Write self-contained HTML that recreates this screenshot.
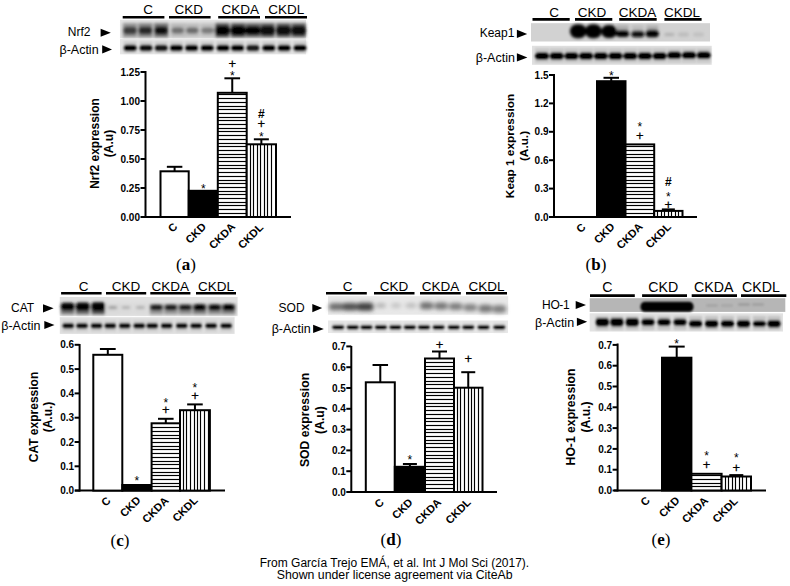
<!DOCTYPE html><html><head><meta charset="utf-8"><style>html,body{margin:0;padding:0;background:#fff;}svg{display:block;}</style></head><body>
<svg width="790" height="586" viewBox="0 0 790 586">
<defs><filter id="b" x="-50%" y="-80%" width="200%" height="260%"><feGaussianBlur stdDeviation="1.6"/></filter><filter id="b2" x="-50%" y="-80%" width="200%" height="260%"><feGaussianBlur stdDeviation="1.0"/></filter><filter id="b3" x="-50%" y="-80%" width="200%" height="260%"><feGaussianBlur stdDeviation="2.2"/></filter></defs>
<rect width="790" height="586" fill="#fff"/>
<filter id="f1" x="-20%" y="-50%" width="140%" height="200%"><feGaussianBlur stdDeviation="1.5"/></filter>
<rect x="120" y="19.8" width="186" height="18.499999999999996" fill="#e4e4e4"/>
<g filter="url(#f1)">
<rect x="122.75" y="23" width="14.5" height="14.5" fill="#8a8a8a" opacity="0.85"/>
<rect x="138.15" y="23" width="14.5" height="14.5" fill="#7a7a7a" opacity="0.85"/>
<rect x="154.05" y="23" width="14.5" height="14.5" fill="#6a6a6a" opacity="0.85"/>
<rect x="170.45" y="23" width="14.5" height="14.5" fill="#b4b4b4" opacity="0.85"/>
<rect x="185.05" y="23" width="14.5" height="14.5" fill="#b8b8b8" opacity="0.85"/>
<rect x="200.25" y="23" width="14.5" height="14.5" fill="#bcbcbc" opacity="0.85"/>
<rect x="215.05" y="23" width="14.5" height="14.5" fill="#4a4a4a" opacity="0.85"/>
<rect x="230.95" y="23" width="14.5" height="14.5" fill="#4a4a4a" opacity="0.85"/>
<rect x="245.65" y="23" width="14.5" height="14.5" fill="#5a5a5a" opacity="0.85"/>
<rect x="260.25" y="23" width="14.5" height="14.5" fill="#555" opacity="0.85"/>
<rect x="276.25" y="23" width="14.5" height="14.5" fill="#555" opacity="0.85"/>
<rect x="291.45" y="23" width="14.5" height="14.5" fill="#555" opacity="0.85"/>
<rect x="123.25" y="26.85" width="13.5" height="7.5" rx="3.5" fill="#3a3a3a"/>
<rect x="138.65" y="26.85" width="13.5" height="7.5" rx="3.5" fill="#262626"/>
<rect x="154.55" y="26.6" width="13.5" height="8" rx="3.5" fill="#101010"/>
<rect x="171.45" y="27.6" width="12.5" height="6" rx="3.5" fill="#6e6e6e"/>
<rect x="186.05" y="27.6" width="12.5" height="6" rx="3.5" fill="#6a6a6a"/>
<rect x="201.25" y="27.6" width="12.5" height="6" rx="3.5" fill="#7a7a7a"/>
<rect x="214.8" y="25.85" width="15" height="9.5" rx="3.5" fill="#000"/>
<rect x="230.7" y="25.85" width="15" height="9.5" rx="3.5" fill="#000"/>
<rect x="245.65" y="26.1" width="14.5" height="9" rx="3.5" fill="#050505"/>
<rect x="260.25" y="25.85" width="14.5" height="9.5" rx="3.5" fill="#0a0a0a"/>
<rect x="276.25" y="25.85" width="14.5" height="9.5" rx="3.5" fill="#080808"/>
<rect x="291.45" y="25.85" width="14.5" height="9.5" rx="3.5" fill="#080808"/>
</g>
<filter id="f2" x="-20%" y="-50%" width="140%" height="200%"><feGaussianBlur stdDeviation="1.1"/></filter>
<rect x="120" y="39" width="186" height="15.299999999999997" fill="#e6e6e6"/>
<g filter="url(#f2)">
<rect x="123.44999999999999" y="41" width="13.5" height="12" fill="#c8c8c8" opacity="0.8"/>
<rect x="139.25" y="41" width="13.5" height="12" fill="#c8c8c8" opacity="0.8"/>
<rect x="154.45" y="41" width="13.5" height="12" fill="#c8c8c8" opacity="0.8"/>
<rect x="169.65" y="41" width="13.5" height="12" fill="#c8c8c8" opacity="0.8"/>
<rect x="184.85" y="41" width="13.5" height="12" fill="#c8c8c8" opacity="0.8"/>
<rect x="200.45" y="41" width="13.5" height="12" fill="#c8c8c8" opacity="0.8"/>
<rect x="216.25" y="41" width="13.5" height="12" fill="#c8c8c8" opacity="0.8"/>
<rect x="230.85" y="41" width="13.5" height="12" fill="#c8c8c8" opacity="0.8"/>
<rect x="246.15" y="41" width="13.5" height="12" fill="#c8c8c8" opacity="0.8"/>
<rect x="262.05" y="41" width="13.5" height="12" fill="#c8c8c8" opacity="0.8"/>
<rect x="277.35" y="41" width="13.5" height="12" fill="#c8c8c8" opacity="0.8"/>
<rect x="293.25" y="41" width="13.5" height="12" fill="#c8c8c8" opacity="0.8"/>
<rect x="123.69999999999999" y="44.65" width="13" height="6.5" rx="3" fill="#000"/>
<rect x="139.5" y="44.65" width="13" height="6.5" rx="3" fill="#0a0a0a"/>
<rect x="154.7" y="44.65" width="13" height="6.5" rx="3" fill="#141414"/>
<rect x="169.9" y="44.65" width="13" height="6.5" rx="3" fill="#000"/>
<rect x="185.1" y="44.65" width="13" height="6.5" rx="3" fill="#050505"/>
<rect x="200.7" y="44.65" width="13" height="6.5" rx="3" fill="#000"/>
<rect x="216.5" y="44.65" width="13" height="6.5" rx="3" fill="#000"/>
<rect x="231.1" y="44.65" width="13" height="6.5" rx="3" fill="#050505"/>
<rect x="246.4" y="44.65" width="13" height="6.5" rx="3" fill="#1a1a1a"/>
<rect x="262.3" y="44.65" width="13" height="6.5" rx="3" fill="#000"/>
<rect x="277.6" y="44.65" width="13" height="6.5" rx="3" fill="#050505"/>
<rect x="293.5" y="44.65" width="13" height="6.5" rx="3" fill="#000"/>
</g>
<text x="148" y="14.4" font-size="13.5" font-weight="normal" text-anchor="middle" font-family='"Liberation Sans", sans-serif' >C</text>
<line x1="122.7" y1="17.3" x2="164.4" y2="17.3" stroke="#000" stroke-width="2.6"/>
<text x="188.8" y="14.4" font-size="13.5" font-weight="normal" text-anchor="middle" font-family='"Liberation Sans", sans-serif' >CKD</text>
<line x1="169" y1="17.3" x2="210.6" y2="17.3" stroke="#000" stroke-width="2.6"/>
<text x="240.3" y="14.4" font-size="13.5" font-weight="normal" text-anchor="middle" font-family='"Liberation Sans", sans-serif' >CKDA</text>
<line x1="218.2" y1="17.3" x2="260" y2="17.3" stroke="#000" stroke-width="2.6"/>
<text x="286.2" y="14.4" font-size="13.5" font-weight="normal" text-anchor="middle" font-family='"Liberation Sans", sans-serif' >CKDL</text>
<line x1="265" y1="17.3" x2="307" y2="17.3" stroke="#000" stroke-width="2.6"/>
<text x="90.5" y="35.8" font-size="12" font-weight="normal" text-anchor="end" font-family='"Liberation Sans", sans-serif' >Nrf2</text>
<polygon points="100.6,28.65 110.8,32.75 100.6,36.85" fill="#000"/>
<text x="98.6" y="54" font-size="12.5" font-weight="normal" text-anchor="end" font-family='"Liberation Sans", sans-serif' >&#946;-Actin</text>
<polygon points="102.2,45.35 112.0,49.45 102.2,53.550000000000004" fill="#000"/>
<line x1="140.5" y1="217" x2="145.5" y2="217" stroke="#000" stroke-width="2"/>
<text x="140.0" y="220.6" font-size="10" font-weight="bold" text-anchor="end" font-family='"Liberation Sans", sans-serif' >0.00</text>
<line x1="140.5" y1="188.0" x2="145.5" y2="188.0" stroke="#000" stroke-width="2"/>
<text x="140.0" y="191.6" font-size="10" font-weight="bold" text-anchor="end" font-family='"Liberation Sans", sans-serif' >0.25</text>
<line x1="140.5" y1="159.0" x2="145.5" y2="159.0" stroke="#000" stroke-width="2"/>
<text x="140.0" y="162.6" font-size="10" font-weight="bold" text-anchor="end" font-family='"Liberation Sans", sans-serif' >0.50</text>
<line x1="140.5" y1="130.0" x2="145.5" y2="130.0" stroke="#000" stroke-width="2"/>
<text x="140.0" y="133.6" font-size="10" font-weight="bold" text-anchor="end" font-family='"Liberation Sans", sans-serif' >0.75</text>
<line x1="140.5" y1="101.0" x2="145.5" y2="101.0" stroke="#000" stroke-width="2"/>
<text x="140.0" y="104.6" font-size="10" font-weight="bold" text-anchor="end" font-family='"Liberation Sans", sans-serif' >1.00</text>
<line x1="140.5" y1="72.0" x2="145.5" y2="72.0" stroke="#000" stroke-width="2"/>
<text x="140.0" y="75.6" font-size="10" font-weight="bold" text-anchor="end" font-family='"Liberation Sans", sans-serif' >1.25</text>
<line x1="145.5" y1="218" x2="145.5" y2="71" stroke="#000" stroke-width="2"/>
<line x1="141" y1="217" x2="291" y2="217" stroke="#000" stroke-width="2"/>
<rect x="160.5" y="171.3" width="28.19999999999999" height="45.69999999999999" fill="#fff" stroke="#000" stroke-width="2"/>
<line x1="174.6" y1="171.3" x2="174.6" y2="166.8" stroke="#000" stroke-width="2"/>
<line x1="166.85" y1="166.8" x2="182.35" y2="166.8" stroke="#000" stroke-width="2"/>
<rect x="188.7" y="190.8" width="29.100000000000023" height="26.19999999999999" fill="#000" stroke="#000" stroke-width="2"/>
<text x="203.25" y="192.6" font-size="12" font-weight="normal" text-anchor="middle" font-family='"Liberation Sans", sans-serif' >*</text>
<rect x="217.8" y="92.8" width="28.899999999999977" height="124.2" fill="#fff" stroke="#000" stroke-width="2"/>
<line x1="217.8" y1="213.5" x2="246.7" y2="213.5" stroke="#000" stroke-width="1.15"/>
<line x1="217.8" y1="209.5" x2="246.7" y2="209.5" stroke="#000" stroke-width="1.15"/>
<line x1="217.8" y1="205.5" x2="246.7" y2="205.5" stroke="#000" stroke-width="1.15"/>
<line x1="217.8" y1="202.5" x2="246.7" y2="202.5" stroke="#000" stroke-width="1.15"/>
<line x1="217.8" y1="198.5" x2="246.7" y2="198.5" stroke="#000" stroke-width="1.15"/>
<line x1="217.8" y1="194.5" x2="246.7" y2="194.5" stroke="#000" stroke-width="1.15"/>
<line x1="217.8" y1="191.5" x2="246.7" y2="191.5" stroke="#000" stroke-width="1.15"/>
<line x1="217.8" y1="187.5" x2="246.7" y2="187.5" stroke="#000" stroke-width="1.15"/>
<line x1="217.8" y1="183.5" x2="246.7" y2="183.5" stroke="#000" stroke-width="1.15"/>
<line x1="217.8" y1="180.5" x2="246.7" y2="180.5" stroke="#000" stroke-width="1.15"/>
<line x1="217.8" y1="176.5" x2="246.7" y2="176.5" stroke="#000" stroke-width="1.15"/>
<line x1="217.8" y1="172.5" x2="246.7" y2="172.5" stroke="#000" stroke-width="1.15"/>
<line x1="217.8" y1="168.5" x2="246.7" y2="168.5" stroke="#000" stroke-width="1.15"/>
<line x1="217.8" y1="165.5" x2="246.7" y2="165.5" stroke="#000" stroke-width="1.15"/>
<line x1="217.8" y1="161.5" x2="246.7" y2="161.5" stroke="#000" stroke-width="1.15"/>
<line x1="217.8" y1="157.5" x2="246.7" y2="157.5" stroke="#000" stroke-width="1.15"/>
<line x1="217.8" y1="154.5" x2="246.7" y2="154.5" stroke="#000" stroke-width="1.15"/>
<line x1="217.8" y1="150.5" x2="246.7" y2="150.5" stroke="#000" stroke-width="1.15"/>
<line x1="217.8" y1="146.5" x2="246.7" y2="146.5" stroke="#000" stroke-width="1.15"/>
<line x1="217.8" y1="143.5" x2="246.7" y2="143.5" stroke="#000" stroke-width="1.15"/>
<line x1="217.8" y1="139.5" x2="246.7" y2="139.5" stroke="#000" stroke-width="1.15"/>
<line x1="217.8" y1="135.5" x2="246.7" y2="135.5" stroke="#000" stroke-width="1.15"/>
<line x1="217.8" y1="131.5" x2="246.7" y2="131.5" stroke="#000" stroke-width="1.15"/>
<line x1="217.8" y1="128.5" x2="246.7" y2="128.5" stroke="#000" stroke-width="1.15"/>
<line x1="217.8" y1="124.5" x2="246.7" y2="124.5" stroke="#000" stroke-width="1.15"/>
<line x1="217.8" y1="120.5" x2="246.7" y2="120.5" stroke="#000" stroke-width="1.15"/>
<line x1="217.8" y1="117.5" x2="246.7" y2="117.5" stroke="#000" stroke-width="1.15"/>
<line x1="217.8" y1="113.5" x2="246.7" y2="113.5" stroke="#000" stroke-width="1.15"/>
<line x1="217.8" y1="109.5" x2="246.7" y2="109.5" stroke="#000" stroke-width="1.15"/>
<line x1="217.8" y1="106.5" x2="246.7" y2="106.5" stroke="#000" stroke-width="1.15"/>
<line x1="217.8" y1="102.5" x2="246.7" y2="102.5" stroke="#000" stroke-width="1.15"/>
<line x1="217.8" y1="98.5" x2="246.7" y2="98.5" stroke="#000" stroke-width="1.15"/>
<line x1="217.8" y1="94.5" x2="246.7" y2="94.5" stroke="#000" stroke-width="1.15"/>
<line x1="232.25" y1="92.8" x2="232.25" y2="78.3" stroke="#000" stroke-width="2"/>
<line x1="224.4" y1="78.3" x2="240.1" y2="78.3" stroke="#000" stroke-width="2"/>
<text x="232.25" y="79.6" font-size="12" font-weight="normal" text-anchor="middle" font-family='"Liberation Sans", sans-serif' >*</text>
<text x="232.25" y="67.6" font-size="13" font-weight="normal" text-anchor="middle" font-family='"Liberation Sans", sans-serif' stroke="#000" stroke-width="0.25">+</text>
<rect x="246.7" y="144.3" width="29.30000000000001" height="72.69999999999999" fill="#fff" stroke="#000" stroke-width="2"/>
<line x1="250.5" y1="144.3" x2="250.5" y2="217" stroke="#000" stroke-width="1.15"/>
<line x1="253.5" y1="144.3" x2="253.5" y2="217" stroke="#000" stroke-width="1.15"/>
<line x1="257.5" y1="144.3" x2="257.5" y2="217" stroke="#000" stroke-width="1.15"/>
<line x1="260.5" y1="144.3" x2="260.5" y2="217" stroke="#000" stroke-width="1.15"/>
<line x1="264.5" y1="144.3" x2="264.5" y2="217" stroke="#000" stroke-width="1.15"/>
<line x1="267.5" y1="144.3" x2="267.5" y2="217" stroke="#000" stroke-width="1.15"/>
<line x1="271.5" y1="144.3" x2="271.5" y2="217" stroke="#000" stroke-width="1.15"/>
<line x1="261.35" y1="144.3" x2="261.35" y2="139.3" stroke="#000" stroke-width="2"/>
<line x1="253.85000000000002" y1="139.3" x2="268.85" y2="139.3" stroke="#000" stroke-width="2"/>
<text x="261.35" y="140.6" font-size="12" font-weight="normal" text-anchor="middle" font-family='"Liberation Sans", sans-serif' >*</text>
<text x="261.35" y="127.6" font-size="13" font-weight="normal" text-anchor="middle" font-family='"Liberation Sans", sans-serif' stroke="#000" stroke-width="0.25">+</text>
<text x="261.35" y="117.9" font-size="12" font-weight="bold" text-anchor="middle" font-family='"Liberation Sans", sans-serif' >#</text>
<text x="178.0" y="227.5" font-size="11" font-weight="bold" text-anchor="end" font-family='"Liberation Sans", sans-serif' transform="rotate(-45 178.0 227.5)">C</text>
<text x="206.8" y="227.4" font-size="11" font-weight="bold" text-anchor="end" font-family='"Liberation Sans", sans-serif' transform="rotate(-45 206.8 227.4)">CKD</text>
<text x="235.9" y="227.4" font-size="11" font-weight="bold" text-anchor="end" font-family='"Liberation Sans", sans-serif' transform="rotate(-45 235.9 227.4)">CKDA</text>
<text x="264.0" y="228.0" font-size="11" font-weight="bold" text-anchor="end" font-family='"Liberation Sans", sans-serif' transform="rotate(-45 264.0 228.0)">CKDL</text>
<text font-size="12" font-weight="bold" text-anchor="middle" font-family='"Liberation Sans", sans-serif' transform="translate(99 143.5) rotate(-90)">Nrf2 expression</text>
<text font-size="12" font-weight="bold" text-anchor="middle" font-family='"Liberation Sans", sans-serif' transform="translate(113 143.5) rotate(-90)">(A.u)</text>
<text x="186" y="270" font-size="17" text-anchor="middle" font-family='"Liberation Serif", serif'>(<tspan font-weight="bold">a</tspan>)</text>
<filter id="f3" x="-20%" y="-50%" width="140%" height="200%"><feGaussianBlur stdDeviation="1.4"/></filter>
<rect x="531" y="23.2" width="179" height="18.3" fill="#d2d2d2"/>
<g filter="url(#f3)">
<rect x="616.6" y="25" width="12" height="9" fill="#a0a0a0" opacity="0.7"/>
<rect x="631.8" y="25" width="12" height="9" fill="#b0b0b0" opacity="0.6"/>
<rect x="646.3" y="25" width="12" height="9" fill="#a4a4a4" opacity="0.7"/>
<rect x="569.95" y="24.2" width="16.5" height="14" rx="7" fill="#000"/>
<rect x="585.15" y="24.2" width="16.5" height="14" rx="7" fill="#000"/>
<rect x="601.2" y="25.0" width="16" height="13" rx="6.5" fill="#000"/>
<rect x="616.1" y="30.0" width="13" height="7" rx="3.5" fill="#000"/>
<rect x="631.3" y="30.75" width="13" height="6.5" rx="3.2" fill="#080808"/>
<rect x="645.8" y="29.75" width="13" height="7.5" rx="3.5" fill="#000"/>
<rect x="664.4" y="33.0" width="10" height="3" rx="1.5" fill="#b0b0b0"/>
<rect x="677.9" y="32.5" width="11" height="4" rx="2" fill="#bcbcbc"/>
<rect x="693.0" y="32.5" width="11" height="4" rx="2" fill="#c0c0c0"/>
</g>
<filter id="f4" x="-20%" y="-50%" width="140%" height="200%"><feGaussianBlur stdDeviation="1.2"/></filter>
<rect x="532" y="45.8" width="179.70000000000005" height="19.0" fill="#e0e0e0"/>
<g filter="url(#f4)">
<rect x="535.0" y="48" width="14" height="15" fill="#c0c0c0" opacity="0.7"/>
<rect x="549.7" y="48" width="14" height="15" fill="#c0c0c0" opacity="0.7"/>
<rect x="564.4" y="48" width="14" height="15" fill="#c0c0c0" opacity="0.7"/>
<rect x="579.1" y="48" width="14" height="15" fill="#c0c0c0" opacity="0.7"/>
<rect x="593.8" y="48" width="14" height="15" fill="#c0c0c0" opacity="0.7"/>
<rect x="608.5" y="48" width="14" height="15" fill="#c0c0c0" opacity="0.7"/>
<rect x="623.2" y="48" width="14" height="15" fill="#c0c0c0" opacity="0.7"/>
<rect x="637.9" y="48" width="14" height="15" fill="#c0c0c0" opacity="0.7"/>
<rect x="652.6" y="48" width="14" height="15" fill="#c0c0c0" opacity="0.7"/>
<rect x="667.3" y="48" width="14" height="15" fill="#c0c0c0" opacity="0.7"/>
<rect x="682.0" y="48" width="14" height="15" fill="#c0c0c0" opacity="0.7"/>
<rect x="696.7" y="48" width="14" height="15" fill="#c0c0c0" opacity="0.7"/>
<rect x="535.0" y="52.2" width="14" height="7.6" rx="3.5" fill="#000"/>
<rect x="549.7" y="52.2" width="14" height="7.6" rx="3.5" fill="#000"/>
<rect x="564.4" y="52.2" width="14" height="7.6" rx="3.5" fill="#000"/>
<rect x="579.1" y="52.2" width="14" height="7.6" rx="3.5" fill="#000"/>
<rect x="593.8" y="52.2" width="14" height="7.6" rx="3.5" fill="#000"/>
<rect x="608.5" y="52.2" width="14" height="7.6" rx="3.5" fill="#000"/>
<rect x="623.2" y="52.2" width="14" height="7.6" rx="3.5" fill="#000"/>
<rect x="637.9" y="52.2" width="14" height="7.6" rx="3.5" fill="#000"/>
<rect x="652.6" y="52.2" width="14" height="7.6" rx="3.5" fill="#000"/>
<rect x="667.3" y="51.400000000000006" width="14" height="7.6" rx="3.5" fill="#000"/>
<rect x="682.0" y="51.400000000000006" width="14" height="7.6" rx="3.5" fill="#000"/>
<rect x="696.7" y="51.400000000000006" width="14" height="7.6" rx="3.5" fill="#000"/>
</g>
<text x="554" y="17" font-size="13.5" font-weight="normal" text-anchor="middle" font-family='"Liberation Sans", sans-serif' >C</text>
<line x1="532.5" y1="19.4" x2="569.7" y2="19.4" stroke="#000" stroke-width="2.6"/>
<text x="592" y="17" font-size="13.5" font-weight="normal" text-anchor="middle" font-family='"Liberation Sans", sans-serif' >CKD</text>
<line x1="575" y1="19.4" x2="612.3" y2="19.4" stroke="#000" stroke-width="2.6"/>
<text x="637.6" y="17" font-size="13.5" font-weight="normal" text-anchor="middle" font-family='"Liberation Sans", sans-serif' >CKDA</text>
<line x1="619.2" y1="19.4" x2="656.7" y2="19.4" stroke="#000" stroke-width="2.6"/>
<text x="682" y="17" font-size="13.5" font-weight="normal" text-anchor="middle" font-family='"Liberation Sans", sans-serif' >CKDL</text>
<line x1="664.4" y1="19.4" x2="701.6" y2="19.4" stroke="#000" stroke-width="2.6"/>
<text x="514.4" y="37.1" font-size="12" font-weight="normal" text-anchor="end" font-family='"Liberation Sans", sans-serif' >Keap1</text>
<polygon points="516.9,29.799999999999997 527.1999999999999,33.9 516.9,38.0" fill="#000"/>
<text x="514.9" y="61.8" font-size="12.5" font-weight="normal" text-anchor="end" font-family='"Liberation Sans", sans-serif' >&#946;-Actin</text>
<polygon points="516.9,53.3 527.4,57.4 516.9,61.5" fill="#000"/>
<line x1="549" y1="217.0" x2="554" y2="217.0" stroke="#000" stroke-width="2"/>
<text x="548.5" y="220.6" font-size="10" font-weight="bold" text-anchor="end" font-family='"Liberation Sans", sans-serif' >0.0</text>
<line x1="549" y1="188.599" x2="554" y2="188.599" stroke="#000" stroke-width="2"/>
<text x="548.5" y="192.19899999999998" font-size="10" font-weight="bold" text-anchor="end" font-family='"Liberation Sans", sans-serif' >0.3</text>
<line x1="549" y1="160.198" x2="554" y2="160.198" stroke="#000" stroke-width="2"/>
<text x="548.5" y="163.798" font-size="10" font-weight="bold" text-anchor="end" font-family='"Liberation Sans", sans-serif' >0.6</text>
<line x1="549" y1="131.797" x2="554" y2="131.797" stroke="#000" stroke-width="2"/>
<text x="548.5" y="135.397" font-size="10" font-weight="bold" text-anchor="end" font-family='"Liberation Sans", sans-serif' >0.9</text>
<line x1="549" y1="103.396" x2="554" y2="103.396" stroke="#000" stroke-width="2"/>
<text x="548.5" y="106.996" font-size="10" font-weight="bold" text-anchor="end" font-family='"Liberation Sans", sans-serif' >1.2</text>
<line x1="549" y1="74.995" x2="554" y2="74.995" stroke="#000" stroke-width="2"/>
<text x="548.5" y="78.595" font-size="10" font-weight="bold" text-anchor="end" font-family='"Liberation Sans", sans-serif' >1.5</text>
<line x1="554" y1="218" x2="554" y2="74" stroke="#000" stroke-width="2"/>
<line x1="551" y1="217" x2="697" y2="217" stroke="#000" stroke-width="2"/>
<rect x="597" y="81.2" width="28.5" height="135.8" fill="#000" stroke="#000" stroke-width="2"/>
<line x1="611.25" y1="81.2" x2="611.25" y2="77.80000000000001" stroke="#000" stroke-width="2"/>
<line x1="603.5" y1="77.80000000000001" x2="619.0" y2="77.80000000000001" stroke="#000" stroke-width="2"/>
<text x="611.25" y="79.6" font-size="12" font-weight="normal" text-anchor="middle" font-family='"Liberation Sans", sans-serif' >*</text>
<rect x="625.5" y="144.4" width="28.700000000000045" height="72.6" fill="#fff" stroke="#000" stroke-width="2"/>
<line x1="625.5" y1="213.5" x2="654.2" y2="213.5" stroke="#000" stroke-width="1.15"/>
<line x1="625.5" y1="209.5" x2="654.2" y2="209.5" stroke="#000" stroke-width="1.15"/>
<line x1="625.5" y1="205.5" x2="654.2" y2="205.5" stroke="#000" stroke-width="1.15"/>
<line x1="625.5" y1="202.5" x2="654.2" y2="202.5" stroke="#000" stroke-width="1.15"/>
<line x1="625.5" y1="198.5" x2="654.2" y2="198.5" stroke="#000" stroke-width="1.15"/>
<line x1="625.5" y1="194.5" x2="654.2" y2="194.5" stroke="#000" stroke-width="1.15"/>
<line x1="625.5" y1="191.5" x2="654.2" y2="191.5" stroke="#000" stroke-width="1.15"/>
<line x1="625.5" y1="187.5" x2="654.2" y2="187.5" stroke="#000" stroke-width="1.15"/>
<line x1="625.5" y1="183.5" x2="654.2" y2="183.5" stroke="#000" stroke-width="1.15"/>
<line x1="625.5" y1="180.5" x2="654.2" y2="180.5" stroke="#000" stroke-width="1.15"/>
<line x1="625.5" y1="176.5" x2="654.2" y2="176.5" stroke="#000" stroke-width="1.15"/>
<line x1="625.5" y1="172.5" x2="654.2" y2="172.5" stroke="#000" stroke-width="1.15"/>
<line x1="625.5" y1="168.5" x2="654.2" y2="168.5" stroke="#000" stroke-width="1.15"/>
<line x1="625.5" y1="165.5" x2="654.2" y2="165.5" stroke="#000" stroke-width="1.15"/>
<line x1="625.5" y1="161.5" x2="654.2" y2="161.5" stroke="#000" stroke-width="1.15"/>
<line x1="625.5" y1="157.5" x2="654.2" y2="157.5" stroke="#000" stroke-width="1.15"/>
<line x1="625.5" y1="154.5" x2="654.2" y2="154.5" stroke="#000" stroke-width="1.15"/>
<line x1="625.5" y1="150.5" x2="654.2" y2="150.5" stroke="#000" stroke-width="1.15"/>
<line x1="625.5" y1="146.5" x2="654.2" y2="146.5" stroke="#000" stroke-width="1.15"/>
<text x="639.85" y="130.6" font-size="12" font-weight="normal" text-anchor="middle" font-family='"Liberation Sans", sans-serif' >*</text>
<text x="639.85" y="140.0" font-size="13" font-weight="normal" text-anchor="middle" font-family='"Liberation Sans", sans-serif' stroke="#000" stroke-width="0.25">+</text>
<rect x="654.2" y="210.9" width="28.299999999999955" height="6.099999999999994" fill="#fff" stroke="#000" stroke-width="2"/>
<line x1="657.5" y1="210.9" x2="657.5" y2="217" stroke="#000" stroke-width="1.15"/>
<line x1="661.5" y1="210.9" x2="661.5" y2="217" stroke="#000" stroke-width="1.15"/>
<line x1="664.5" y1="210.9" x2="664.5" y2="217" stroke="#000" stroke-width="1.15"/>
<line x1="668.5" y1="210.9" x2="668.5" y2="217" stroke="#000" stroke-width="1.15"/>
<line x1="671.5" y1="210.9" x2="671.5" y2="217" stroke="#000" stroke-width="1.15"/>
<line x1="675.5" y1="210.9" x2="675.5" y2="217" stroke="#000" stroke-width="1.15"/>
<line x1="678.5" y1="210.9" x2="678.5" y2="217" stroke="#000" stroke-width="1.15"/>
<line x1="668.35" y1="210.9" x2="668.35" y2="209.4" stroke="#000" stroke-width="2"/>
<line x1="661.85" y1="209.4" x2="674.85" y2="209.4" stroke="#000" stroke-width="2"/>
<text x="668.35" y="186.4" font-size="12" font-weight="bold" text-anchor="middle" font-family='"Liberation Sans", sans-serif' >#</text>
<text x="668.35" y="200.6" font-size="12" font-weight="normal" text-anchor="middle" font-family='"Liberation Sans", sans-serif' >*</text>
<text x="668.35" y="208.6" font-size="13" font-weight="normal" text-anchor="middle" font-family='"Liberation Sans", sans-serif' stroke="#000" stroke-width="0.25">+</text>
<text x="586.3" y="227.8" font-size="11" font-weight="bold" text-anchor="end" font-family='"Liberation Sans", sans-serif' transform="rotate(-45 586.3 227.8)">C</text>
<text x="615.3" y="227.4" font-size="11" font-weight="bold" text-anchor="end" font-family='"Liberation Sans", sans-serif' transform="rotate(-45 615.3 227.4)">CKD</text>
<text x="643.5" y="227.4" font-size="11" font-weight="bold" text-anchor="end" font-family='"Liberation Sans", sans-serif' transform="rotate(-45 643.5 227.4)">CKDA</text>
<text x="671.7" y="227.5" font-size="11" font-weight="bold" text-anchor="end" font-family='"Liberation Sans", sans-serif' transform="rotate(-45 671.7 227.5)">CKDL</text>
<text font-size="11.8" font-weight="bold" text-anchor="middle" font-family='"Liberation Sans", sans-serif' transform="translate(514 146) rotate(-90)">Keap 1 expression</text>
<text font-size="11.8" font-weight="bold" text-anchor="middle" font-family='"Liberation Sans", sans-serif' transform="translate(527.5 146) rotate(-90)">(A.u.)</text>
<text x="596" y="270" font-size="17" text-anchor="middle" font-family='"Liberation Serif", serif'>(<tspan font-weight="bold">b</tspan>)</text>
<filter id="f5" x="-20%" y="-50%" width="140%" height="200%"><feGaussianBlur stdDeviation="1.4"/></filter>
<rect x="59.8" y="297" width="177.8" height="18.899999999999977" fill="#e0e0e0"/>
<g filter="url(#f5)">
<rect x="60.849999999999994" y="303" width="13.5" height="11.5" fill="#707070" opacity="0.9"/>
<rect x="75.95" y="303" width="13.5" height="11.5" fill="#606060" opacity="0.9"/>
<rect x="91.55" y="303" width="13.5" height="11.5" fill="#505050" opacity="0.9"/>
<rect x="105.95" y="303" width="13.5" height="11.5" fill="#d8d8d8" opacity="0.9"/>
<rect x="119.25" y="303" width="13.5" height="11.5" fill="#dadada" opacity="0.9"/>
<rect x="133.65" y="303" width="13.5" height="11.5" fill="#dadada" opacity="0.9"/>
<rect x="149.65" y="304" width="13.5" height="10.5" fill="#909090" opacity="0.9"/>
<rect x="164.15" y="304" width="13.5" height="10.5" fill="#909090" opacity="0.9"/>
<rect x="178.55" y="304" width="13.5" height="10.5" fill="#8a8a8a" opacity="0.9"/>
<rect x="192.95" y="304" width="13.5" height="10.5" fill="#7a7a7a" opacity="0.9"/>
<rect x="207.95" y="304" width="13.5" height="10.5" fill="#858585" opacity="0.9"/>
<rect x="221.85" y="304" width="13.5" height="10.5" fill="#7e7e7e" opacity="0.9"/>
<rect x="60.849999999999994" y="302.8" width="13.5" height="8" rx="3" fill="#000"/>
<rect x="75.95" y="302.55" width="13.5" height="8.5" rx="3" fill="#000"/>
<rect x="91.55" y="302.3" width="13.5" height="9" rx="3" fill="#000"/>
<rect x="108.2" y="306.0" width="9" height="3" rx="3" fill="#9a9a9a"/>
<rect x="121.5" y="306.25" width="9" height="2.5" rx="3" fill="#aaaaaa"/>
<rect x="135.9" y="306.25" width="9" height="2.5" rx="3" fill="#a4a4a4"/>
<rect x="150.15" y="304.75" width="12.5" height="5.5" rx="3" fill="#0a0a0a"/>
<rect x="164.65" y="304.75" width="12.5" height="5.5" rx="3" fill="#0a0a0a"/>
<rect x="179.05" y="304.75" width="12.5" height="5.5" rx="3" fill="#080808"/>
<rect x="193.45" y="304.25" width="12.5" height="6.5" rx="3" fill="#000"/>
<rect x="208.45" y="304.5" width="12.5" height="6" rx="3" fill="#050505"/>
<rect x="222.35" y="304.25" width="12.5" height="6.5" rx="3" fill="#000"/>
</g>
<filter id="f6" x="-20%" y="-50%" width="140%" height="200%"><feGaussianBlur stdDeviation="1.0"/></filter>
<rect x="59.8" y="317.2" width="174.8" height="16.69999999999999" fill="#e0e0e0"/>
<g filter="url(#f6)">
<rect x="62.2" y="320" width="12" height="12" fill="#cacaca" opacity="0.7"/>
<rect x="76.0" y="320" width="12" height="12" fill="#cacaca" opacity="0.7"/>
<rect x="90.5" y="320" width="12" height="12" fill="#cacaca" opacity="0.7"/>
<rect x="104.3" y="320" width="12" height="12" fill="#cacaca" opacity="0.7"/>
<rect x="118.7" y="320" width="12" height="12" fill="#cacaca" opacity="0.7"/>
<rect x="133.2" y="320" width="12" height="12" fill="#cacaca" opacity="0.7"/>
<rect x="146.2" y="320" width="12" height="12" fill="#cacaca" opacity="0.7"/>
<rect x="160.6" y="320" width="12" height="12" fill="#cacaca" opacity="0.7"/>
<rect x="175.7" y="320" width="12" height="12" fill="#cacaca" opacity="0.7"/>
<rect x="190.1" y="320" width="12" height="12" fill="#cacaca" opacity="0.7"/>
<rect x="205.1" y="320" width="12" height="12" fill="#cacaca" opacity="0.7"/>
<rect x="220.2" y="320" width="12" height="12" fill="#cacaca" opacity="0.7"/>
<rect x="62.45" y="323.1" width="11.5" height="5.4" rx="2.5" fill="#080808"/>
<rect x="76.25" y="323.1" width="11.5" height="5.4" rx="2.5" fill="#080808"/>
<rect x="90.75" y="323.1" width="11.5" height="5.4" rx="2.5" fill="#080808"/>
<rect x="104.55" y="323.1" width="11.5" height="5.4" rx="2.5" fill="#080808"/>
<rect x="118.95" y="323.1" width="11.5" height="5.4" rx="2.5" fill="#080808"/>
<rect x="133.45" y="323.1" width="11.5" height="5.4" rx="2.5" fill="#080808"/>
<rect x="146.45" y="323.1" width="11.5" height="5.4" rx="2.5" fill="#080808"/>
<rect x="160.85" y="323.1" width="11.5" height="5.4" rx="2.5" fill="#080808"/>
<rect x="175.95" y="323.1" width="11.5" height="5.4" rx="2.5" fill="#080808"/>
<rect x="190.35" y="323.1" width="11.5" height="5.4" rx="2.5" fill="#080808"/>
<rect x="205.35" y="323.1" width="11.5" height="5.4" rx="2.5" fill="#080808"/>
<rect x="220.45" y="323.1" width="11.5" height="5.4" rx="2.5" fill="#080808"/>
</g>
<text x="83.5" y="290.8" font-size="13.5" font-weight="normal" text-anchor="middle" font-family='"Liberation Sans", sans-serif' >C</text>
<line x1="61.1" y1="293.3" x2="101.6" y2="293.3" stroke="#000" stroke-width="2.6"/>
<text x="126" y="290.8" font-size="13.5" font-weight="normal" text-anchor="middle" font-family='"Liberation Sans", sans-serif' >CKD</text>
<line x1="106" y1="293.3" x2="146.2" y2="293.3" stroke="#000" stroke-width="2.6"/>
<text x="170.3" y="290.8" font-size="13.5" font-weight="normal" text-anchor="middle" font-family='"Liberation Sans", sans-serif' >CKDA</text>
<line x1="150.3" y1="293.3" x2="190.4" y2="293.3" stroke="#000" stroke-width="2.6"/>
<text x="216" y="290.8" font-size="13.5" font-weight="normal" text-anchor="middle" font-family='"Liberation Sans", sans-serif' >CKDL</text>
<line x1="196" y1="293.3" x2="236" y2="293.3" stroke="#000" stroke-width="2.6"/>
<text x="34.2" y="311.8" font-size="12" font-weight="normal" text-anchor="end" font-family='"Liberation Sans", sans-serif' >CAT</text>
<polygon points="43,304.2 53.6,308.3 43,312.40000000000003" fill="#000"/>
<text x="40.4" y="329.6" font-size="12.5" font-weight="normal" text-anchor="end" font-family='"Liberation Sans", sans-serif' >&#946;-Actin</text>
<polygon points="44.3,320.9 54.5,325 44.3,329.1" fill="#000"/>
<line x1="74.6" y1="490.6" x2="79.6" y2="490.6" stroke="#000" stroke-width="2"/>
<text x="74.1" y="494.20000000000005" font-size="10" font-weight="bold" text-anchor="end" font-family='"Liberation Sans", sans-serif' >0.0</text>
<line x1="74.6" y1="466.3" x2="79.6" y2="466.3" stroke="#000" stroke-width="2"/>
<text x="74.1" y="469.90000000000003" font-size="10" font-weight="bold" text-anchor="end" font-family='"Liberation Sans", sans-serif' >0.1</text>
<line x1="74.6" y1="442.0" x2="79.6" y2="442.0" stroke="#000" stroke-width="2"/>
<text x="74.1" y="445.6" font-size="10" font-weight="bold" text-anchor="end" font-family='"Liberation Sans", sans-serif' >0.2</text>
<line x1="74.6" y1="417.70000000000005" x2="79.6" y2="417.70000000000005" stroke="#000" stroke-width="2"/>
<text x="74.1" y="421.30000000000007" font-size="10" font-weight="bold" text-anchor="end" font-family='"Liberation Sans", sans-serif' >0.3</text>
<line x1="74.6" y1="393.40000000000003" x2="79.6" y2="393.40000000000003" stroke="#000" stroke-width="2"/>
<text x="74.1" y="397.00000000000006" font-size="10" font-weight="bold" text-anchor="end" font-family='"Liberation Sans", sans-serif' >0.4</text>
<line x1="74.6" y1="369.1" x2="79.6" y2="369.1" stroke="#000" stroke-width="2"/>
<text x="74.1" y="372.70000000000005" font-size="10" font-weight="bold" text-anchor="end" font-family='"Liberation Sans", sans-serif' >0.5</text>
<line x1="74.6" y1="344.80000000000007" x2="79.6" y2="344.80000000000007" stroke="#000" stroke-width="2"/>
<text x="74.1" y="348.4000000000001" font-size="10" font-weight="bold" text-anchor="end" font-family='"Liberation Sans", sans-serif' >0.6</text>
<line x1="79.6" y1="491.6" x2="79.6" y2="344" stroke="#000" stroke-width="2"/>
<line x1="75" y1="490.6" x2="225" y2="490.6" stroke="#000" stroke-width="2"/>
<rect x="93.3" y="354.8" width="29.0" height="135.8" fill="#fff" stroke="#000" stroke-width="2"/>
<line x1="107.8" y1="354.8" x2="107.8" y2="349.0" stroke="#000" stroke-width="2"/>
<line x1="99.89999999999999" y1="349.0" x2="115.7" y2="349.0" stroke="#000" stroke-width="2"/>
<rect x="122.3" y="485.0" width="29.299999999999997" height="5.600000000000023" fill="#000" stroke="#000" stroke-width="2"/>
<text x="136.95" y="485.0" font-size="12" font-weight="normal" text-anchor="middle" font-family='"Liberation Sans", sans-serif' >*</text>
<rect x="151.6" y="423.3" width="28.400000000000006" height="67.30000000000001" fill="#fff" stroke="#000" stroke-width="2"/>
<line x1="151.6" y1="486.5" x2="180" y2="486.5" stroke="#000" stroke-width="1.15"/>
<line x1="151.6" y1="483.5" x2="180" y2="483.5" stroke="#000" stroke-width="1.15"/>
<line x1="151.6" y1="479.5" x2="180" y2="479.5" stroke="#000" stroke-width="1.15"/>
<line x1="151.6" y1="475.5" x2="180" y2="475.5" stroke="#000" stroke-width="1.15"/>
<line x1="151.6" y1="472.5" x2="180" y2="472.5" stroke="#000" stroke-width="1.15"/>
<line x1="151.6" y1="468.5" x2="180" y2="468.5" stroke="#000" stroke-width="1.15"/>
<line x1="151.6" y1="464.5" x2="180" y2="464.5" stroke="#000" stroke-width="1.15"/>
<line x1="151.6" y1="461.5" x2="180" y2="461.5" stroke="#000" stroke-width="1.15"/>
<line x1="151.6" y1="457.5" x2="180" y2="457.5" stroke="#000" stroke-width="1.15"/>
<line x1="151.6" y1="453.5" x2="180" y2="453.5" stroke="#000" stroke-width="1.15"/>
<line x1="151.6" y1="449.5" x2="180" y2="449.5" stroke="#000" stroke-width="1.15"/>
<line x1="151.6" y1="446.5" x2="180" y2="446.5" stroke="#000" stroke-width="1.15"/>
<line x1="151.6" y1="442.5" x2="180" y2="442.5" stroke="#000" stroke-width="1.15"/>
<line x1="151.6" y1="438.5" x2="180" y2="438.5" stroke="#000" stroke-width="1.15"/>
<line x1="151.6" y1="435.5" x2="180" y2="435.5" stroke="#000" stroke-width="1.15"/>
<line x1="151.6" y1="431.5" x2="180" y2="431.5" stroke="#000" stroke-width="1.15"/>
<line x1="151.6" y1="427.5" x2="180" y2="427.5" stroke="#000" stroke-width="1.15"/>
<line x1="165.8" y1="423.3" x2="165.8" y2="418.8" stroke="#000" stroke-width="2"/>
<line x1="158.0" y1="418.8" x2="173.60000000000002" y2="418.8" stroke="#000" stroke-width="2"/>
<text x="165.8" y="414.0" font-size="13" font-weight="normal" text-anchor="middle" font-family='"Liberation Sans", sans-serif' stroke="#000" stroke-width="0.25">+</text>
<text x="165.8" y="406.6" font-size="12" font-weight="normal" text-anchor="middle" font-family='"Liberation Sans", sans-serif' >*</text>
<rect x="180" y="410.2" width="29.900000000000006" height="80.40000000000003" fill="#fff" stroke="#000" stroke-width="2"/>
<line x1="183.5" y1="410.2" x2="183.5" y2="490.6" stroke="#000" stroke-width="1.15"/>
<line x1="186.5" y1="410.2" x2="186.5" y2="490.6" stroke="#000" stroke-width="1.15"/>
<line x1="190.5" y1="410.2" x2="190.5" y2="490.6" stroke="#000" stroke-width="1.15"/>
<line x1="194.5" y1="410.2" x2="194.5" y2="490.6" stroke="#000" stroke-width="1.15"/>
<line x1="197.5" y1="410.2" x2="197.5" y2="490.6" stroke="#000" stroke-width="1.15"/>
<line x1="200.5" y1="410.2" x2="200.5" y2="490.6" stroke="#000" stroke-width="1.15"/>
<line x1="204.5" y1="410.2" x2="204.5" y2="490.6" stroke="#000" stroke-width="1.15"/>
<line x1="208.5" y1="410.2" x2="208.5" y2="490.6" stroke="#000" stroke-width="1.15"/>
<line x1="194.95" y1="410.2" x2="194.95" y2="404.40000000000003" stroke="#000" stroke-width="2"/>
<line x1="187.14999999999998" y1="404.40000000000003" x2="202.75" y2="404.40000000000003" stroke="#000" stroke-width="2"/>
<text x="194.95" y="399.6" font-size="13" font-weight="normal" text-anchor="middle" font-family='"Liberation Sans", sans-serif' stroke="#000" stroke-width="0.25">+</text>
<text x="194.95" y="391.6" font-size="12" font-weight="normal" text-anchor="middle" font-family='"Liberation Sans", sans-serif' >*</text>
<text x="111.3" y="501.3" font-size="11" font-weight="bold" text-anchor="end" font-family='"Liberation Sans", sans-serif' transform="rotate(-45 111.3 501.3)">C</text>
<text x="141.3" y="500.9" font-size="11" font-weight="bold" text-anchor="end" font-family='"Liberation Sans", sans-serif' transform="rotate(-45 141.3 500.9)">CKD</text>
<text x="169.3" y="501.3" font-size="11" font-weight="bold" text-anchor="end" font-family='"Liberation Sans", sans-serif' transform="rotate(-45 169.3 501.3)">CKDA</text>
<text x="198.5" y="501.0" font-size="11" font-weight="bold" text-anchor="end" font-family='"Liberation Sans", sans-serif' transform="rotate(-45 198.5 501.0)">CKDL</text>
<text font-size="12" font-weight="bold" text-anchor="middle" font-family='"Liberation Sans", sans-serif' transform="translate(37.5 417) rotate(-90)">CAT expression</text>
<text font-size="12" font-weight="bold" text-anchor="middle" font-family='"Liberation Sans", sans-serif' transform="translate(51.5 417) rotate(-90)">(A.u.)</text>
<text x="120" y="546" font-size="17" text-anchor="middle" font-family='"Liberation Serif", serif'>(<tspan font-weight="bold">c</tspan>)</text>
<filter id="f7" x="-20%" y="-50%" width="140%" height="200%"><feGaussianBlur stdDeviation="1.9"/></filter>
<rect x="328" y="296.2" width="180.2" height="18.5" fill="#e8e8e8"/>
<g filter="url(#f7)">
<rect x="328.9" y="303.3" width="15" height="7" rx="3.5" fill="#6a6a6a"/>
<rect x="342.25" y="303.05" width="15.5" height="7.5" rx="3.5" fill="#505050"/>
<rect x="357.05" y="302.8" width="16.5" height="8" rx="3.5" fill="#404040"/>
<rect x="375.9" y="303.6" width="10" height="4" rx="3.5" fill="#a8a8a8"/>
<rect x="391.0" y="303.6" width="10" height="4" rx="3.5" fill="#bcbcbc"/>
<rect x="405.5" y="303.6" width="11" height="4" rx="3.5" fill="#b4b4b4"/>
<rect x="419.85" y="302.3" width="13.5" height="7" rx="3.5" fill="#6e6e6e"/>
<rect x="434.35" y="302.5" width="13.5" height="7" rx="3.5" fill="#747474"/>
<rect x="448.95" y="303.0" width="13.5" height="7" rx="3.5" fill="#7c7c7c"/>
<rect x="463.45" y="304.0" width="13.5" height="7" rx="3.5" fill="#828282"/>
<rect x="478.65" y="304.75" width="13.5" height="7.5" rx="3.5" fill="#767676"/>
<rect x="492.55" y="305.25" width="13.5" height="7.5" rx="3.5" fill="#7e7e7e"/>
</g>
<filter id="f8" x="-20%" y="-50%" width="140%" height="200%"><feGaussianBlur stdDeviation="1.0"/></filter>
<rect x="328" y="320.5" width="180" height="12.5" fill="#e8e8e8"/>
<g filter="url(#f8)">
<rect x="332.2" y="322" width="12" height="10" fill="#d4d4d4" opacity="0.6"/>
<rect x="346.7" y="322" width="12" height="10" fill="#d4d4d4" opacity="0.6"/>
<rect x="360.5" y="322" width="12" height="10" fill="#d4d4d4" opacity="0.6"/>
<rect x="374.9" y="322" width="12" height="10" fill="#d4d4d4" opacity="0.6"/>
<rect x="389.4" y="322" width="12" height="10" fill="#d4d4d4" opacity="0.6"/>
<rect x="403.8" y="322" width="12" height="10" fill="#d4d4d4" opacity="0.6"/>
<rect x="418.0" y="322" width="12" height="10" fill="#d4d4d4" opacity="0.6"/>
<rect x="432.6" y="322" width="12" height="10" fill="#d4d4d4" opacity="0.6"/>
<rect x="447.8" y="322" width="12" height="10" fill="#d4d4d4" opacity="0.6"/>
<rect x="462.3" y="322" width="12" height="10" fill="#d4d4d4" opacity="0.6"/>
<rect x="477.5" y="322" width="12" height="10" fill="#d4d4d4" opacity="0.6"/>
<rect x="493.3" y="322" width="12" height="10" fill="#d4d4d4" opacity="0.6"/>
<rect x="332.2" y="324.9" width="12" height="4.6" rx="2.2" fill="#050505"/>
<rect x="346.7" y="324.9" width="12" height="4.6" rx="2.2" fill="#050505"/>
<rect x="360.5" y="324.9" width="12" height="4.6" rx="2.2" fill="#050505"/>
<rect x="374.9" y="324.9" width="12" height="4.6" rx="2.2" fill="#050505"/>
<rect x="389.4" y="324.9" width="12" height="4.6" rx="2.2" fill="#050505"/>
<rect x="403.8" y="324.9" width="12" height="4.6" rx="2.2" fill="#050505"/>
<rect x="418.0" y="324.9" width="12" height="4.6" rx="2.2" fill="#050505"/>
<rect x="432.6" y="324.9" width="12" height="4.6" rx="2.2" fill="#050505"/>
<rect x="447.8" y="324.9" width="12" height="4.6" rx="2.2" fill="#050505"/>
<rect x="462.3" y="324.9" width="12" height="4.6" rx="2.2" fill="#050505"/>
<rect x="477.5" y="324.9" width="12" height="4.6" rx="2.2" fill="#050505"/>
<rect x="493.3" y="324.9" width="12" height="4.6" rx="2.2" fill="#050505"/>
</g>
<text x="347.5" y="290.5" font-size="13.5" font-weight="normal" text-anchor="middle" font-family='"Liberation Sans", sans-serif' >C</text>
<line x1="326" y1="293.2" x2="366.8" y2="293.2" stroke="#000" stroke-width="2.6"/>
<text x="394" y="290.5" font-size="13.5" font-weight="normal" text-anchor="middle" font-family='"Liberation Sans", sans-serif' >CKD</text>
<line x1="374" y1="293.2" x2="414.5" y2="293.2" stroke="#000" stroke-width="2.6"/>
<text x="440.5" y="290.5" font-size="13.5" font-weight="normal" text-anchor="middle" font-family='"Liberation Sans", sans-serif' >CKDA</text>
<line x1="420" y1="293.2" x2="460.8" y2="293.2" stroke="#000" stroke-width="2.6"/>
<text x="486.5" y="290.5" font-size="13.5" font-weight="normal" text-anchor="middle" font-family='"Liberation Sans", sans-serif' >CKDL</text>
<line x1="466" y1="293.2" x2="507" y2="293.2" stroke="#000" stroke-width="2.6"/>
<text x="304.6" y="311.5" font-size="12" font-weight="normal" text-anchor="end" font-family='"Liberation Sans", sans-serif' >SOD</text>
<polygon points="312.3,304.0 322.2,308.1 312.3,312.20000000000005" fill="#000"/>
<text x="310.8" y="333.3" font-size="12.5" font-weight="normal" text-anchor="end" font-family='"Liberation Sans", sans-serif' >&#946;-Actin</text>
<polygon points="313.1,324.79999999999995 323.8,328.9 313.1,333.0" fill="#000"/>
<line x1="346.3" y1="492" x2="351.3" y2="492" stroke="#000" stroke-width="2"/>
<text x="345.8" y="495.6" font-size="10" font-weight="bold" text-anchor="end" font-family='"Liberation Sans", sans-serif' >0.0</text>
<line x1="346.3" y1="471.2" x2="351.3" y2="471.2" stroke="#000" stroke-width="2"/>
<text x="345.8" y="474.8" font-size="10" font-weight="bold" text-anchor="end" font-family='"Liberation Sans", sans-serif' >0.1</text>
<line x1="346.3" y1="450.4" x2="351.3" y2="450.4" stroke="#000" stroke-width="2"/>
<text x="345.8" y="454.0" font-size="10" font-weight="bold" text-anchor="end" font-family='"Liberation Sans", sans-serif' >0.2</text>
<line x1="346.3" y1="429.6" x2="351.3" y2="429.6" stroke="#000" stroke-width="2"/>
<text x="345.8" y="433.20000000000005" font-size="10" font-weight="bold" text-anchor="end" font-family='"Liberation Sans", sans-serif' >0.3</text>
<line x1="346.3" y1="408.8" x2="351.3" y2="408.8" stroke="#000" stroke-width="2"/>
<text x="345.8" y="412.40000000000003" font-size="10" font-weight="bold" text-anchor="end" font-family='"Liberation Sans", sans-serif' >0.4</text>
<line x1="346.3" y1="388.0" x2="351.3" y2="388.0" stroke="#000" stroke-width="2"/>
<text x="345.8" y="391.6" font-size="10" font-weight="bold" text-anchor="end" font-family='"Liberation Sans", sans-serif' >0.5</text>
<line x1="346.3" y1="367.2" x2="351.3" y2="367.2" stroke="#000" stroke-width="2"/>
<text x="345.8" y="370.8" font-size="10" font-weight="bold" text-anchor="end" font-family='"Liberation Sans", sans-serif' >0.6</text>
<line x1="346.3" y1="346.4" x2="351.3" y2="346.4" stroke="#000" stroke-width="2"/>
<text x="345.8" y="350.0" font-size="10" font-weight="bold" text-anchor="end" font-family='"Liberation Sans", sans-serif' >0.7</text>
<line x1="351.3" y1="493" x2="351.3" y2="346" stroke="#000" stroke-width="2"/>
<line x1="347" y1="492" x2="497" y2="492" stroke="#000" stroke-width="2"/>
<rect x="365.8" y="382.3" width="29.0" height="109.69999999999999" fill="#fff" stroke="#000" stroke-width="2"/>
<line x1="380.3" y1="382.3" x2="380.3" y2="365" stroke="#000" stroke-width="2"/>
<line x1="372.55" y1="365" x2="388.05" y2="365" stroke="#000" stroke-width="2"/>
<rect x="394.8" y="466.8" width="30.19999999999999" height="25.19999999999999" fill="#000" stroke="#000" stroke-width="2"/>
<line x1="409.9" y1="466.8" x2="409.9" y2="464" stroke="#000" stroke-width="2"/>
<line x1="402.9" y1="464" x2="416.9" y2="464" stroke="#000" stroke-width="2"/>
<text x="409.9" y="464.40000000000003" font-size="12" font-weight="normal" text-anchor="middle" font-family='"Liberation Sans", sans-serif' >*</text>
<rect x="425" y="358.5" width="29" height="133.5" fill="#fff" stroke="#000" stroke-width="2"/>
<line x1="425" y1="488.5" x2="454" y2="488.5" stroke="#000" stroke-width="1.15"/>
<line x1="425" y1="484.5" x2="454" y2="484.5" stroke="#000" stroke-width="1.15"/>
<line x1="425" y1="480.5" x2="454" y2="480.5" stroke="#000" stroke-width="1.15"/>
<line x1="425" y1="477.5" x2="454" y2="477.5" stroke="#000" stroke-width="1.15"/>
<line x1="425" y1="473.5" x2="454" y2="473.5" stroke="#000" stroke-width="1.15"/>
<line x1="425" y1="469.5" x2="454" y2="469.5" stroke="#000" stroke-width="1.15"/>
<line x1="425" y1="466.5" x2="454" y2="466.5" stroke="#000" stroke-width="1.15"/>
<line x1="425" y1="462.5" x2="454" y2="462.5" stroke="#000" stroke-width="1.15"/>
<line x1="425" y1="458.5" x2="454" y2="458.5" stroke="#000" stroke-width="1.15"/>
<line x1="425" y1="455.5" x2="454" y2="455.5" stroke="#000" stroke-width="1.15"/>
<line x1="425" y1="451.5" x2="454" y2="451.5" stroke="#000" stroke-width="1.15"/>
<line x1="425" y1="447.5" x2="454" y2="447.5" stroke="#000" stroke-width="1.15"/>
<line x1="425" y1="443.5" x2="454" y2="443.5" stroke="#000" stroke-width="1.15"/>
<line x1="425" y1="440.5" x2="454" y2="440.5" stroke="#000" stroke-width="1.15"/>
<line x1="425" y1="436.5" x2="454" y2="436.5" stroke="#000" stroke-width="1.15"/>
<line x1="425" y1="432.5" x2="454" y2="432.5" stroke="#000" stroke-width="1.15"/>
<line x1="425" y1="429.5" x2="454" y2="429.5" stroke="#000" stroke-width="1.15"/>
<line x1="425" y1="425.5" x2="454" y2="425.5" stroke="#000" stroke-width="1.15"/>
<line x1="425" y1="421.5" x2="454" y2="421.5" stroke="#000" stroke-width="1.15"/>
<line x1="425" y1="418.5" x2="454" y2="418.5" stroke="#000" stroke-width="1.15"/>
<line x1="425" y1="414.5" x2="454" y2="414.5" stroke="#000" stroke-width="1.15"/>
<line x1="425" y1="410.5" x2="454" y2="410.5" stroke="#000" stroke-width="1.15"/>
<line x1="425" y1="406.5" x2="454" y2="406.5" stroke="#000" stroke-width="1.15"/>
<line x1="425" y1="403.5" x2="454" y2="403.5" stroke="#000" stroke-width="1.15"/>
<line x1="425" y1="399.5" x2="454" y2="399.5" stroke="#000" stroke-width="1.15"/>
<line x1="425" y1="395.5" x2="454" y2="395.5" stroke="#000" stroke-width="1.15"/>
<line x1="425" y1="392.5" x2="454" y2="392.5" stroke="#000" stroke-width="1.15"/>
<line x1="425" y1="388.5" x2="454" y2="388.5" stroke="#000" stroke-width="1.15"/>
<line x1="425" y1="384.5" x2="454" y2="384.5" stroke="#000" stroke-width="1.15"/>
<line x1="425" y1="381.5" x2="454" y2="381.5" stroke="#000" stroke-width="1.15"/>
<line x1="425" y1="377.5" x2="454" y2="377.5" stroke="#000" stroke-width="1.15"/>
<line x1="425" y1="373.5" x2="454" y2="373.5" stroke="#000" stroke-width="1.15"/>
<line x1="425" y1="369.5" x2="454" y2="369.5" stroke="#000" stroke-width="1.15"/>
<line x1="425" y1="366.5" x2="454" y2="366.5" stroke="#000" stroke-width="1.15"/>
<line x1="425" y1="362.5" x2="454" y2="362.5" stroke="#000" stroke-width="1.15"/>
<line x1="439.5" y1="358.5" x2="439.5" y2="351.5" stroke="#000" stroke-width="2"/>
<line x1="432.0" y1="351.5" x2="447.0" y2="351.5" stroke="#000" stroke-width="2"/>
<text x="439.5" y="348.6" font-size="13" font-weight="normal" text-anchor="middle" font-family='"Liberation Sans", sans-serif' stroke="#000" stroke-width="0.25">+</text>
<rect x="454" y="387.7" width="28.5" height="104.30000000000001" fill="#fff" stroke="#000" stroke-width="2"/>
<line x1="457.5" y1="387.7" x2="457.5" y2="492" stroke="#000" stroke-width="1.15"/>
<line x1="460.5" y1="387.7" x2="460.5" y2="492" stroke="#000" stroke-width="1.15"/>
<line x1="464.5" y1="387.7" x2="464.5" y2="492" stroke="#000" stroke-width="1.15"/>
<line x1="468.5" y1="387.7" x2="468.5" y2="492" stroke="#000" stroke-width="1.15"/>
<line x1="471.5" y1="387.7" x2="471.5" y2="492" stroke="#000" stroke-width="1.15"/>
<line x1="474.5" y1="387.7" x2="474.5" y2="492" stroke="#000" stroke-width="1.15"/>
<line x1="478.5" y1="387.7" x2="478.5" y2="492" stroke="#000" stroke-width="1.15"/>
<line x1="468.25" y1="387.7" x2="468.25" y2="372.2" stroke="#000" stroke-width="2"/>
<line x1="461.25" y1="372.2" x2="475.25" y2="372.2" stroke="#000" stroke-width="2"/>
<text x="468.25" y="363.1" font-size="13" font-weight="normal" text-anchor="middle" font-family='"Liberation Sans", sans-serif' stroke="#000" stroke-width="0.25">+</text>
<text x="384.6" y="503.1" font-size="11" font-weight="bold" text-anchor="end" font-family='"Liberation Sans", sans-serif' transform="rotate(-45 384.6 503.1)">C</text>
<text x="413.4" y="503.0" font-size="11" font-weight="bold" text-anchor="end" font-family='"Liberation Sans", sans-serif' transform="rotate(-45 413.4 503.0)">CKD</text>
<text x="441.9" y="503.0" font-size="11" font-weight="bold" text-anchor="end" font-family='"Liberation Sans", sans-serif' transform="rotate(-45 441.9 503.0)">CKDA</text>
<text x="471.6" y="503.1" font-size="11" font-weight="bold" text-anchor="end" font-family='"Liberation Sans", sans-serif' transform="rotate(-45 471.6 503.1)">CKDL</text>
<text font-size="12.2" font-weight="bold" text-anchor="middle" font-family='"Liberation Sans", sans-serif' transform="translate(309 420) rotate(-90)">SOD expression</text>
<text font-size="12.2" font-weight="bold" text-anchor="middle" font-family='"Liberation Sans", sans-serif' transform="translate(324 420) rotate(-90)">(A.u)</text>
<text x="391" y="545.3" font-size="17" text-anchor="middle" font-family='"Liberation Serif", serif'>(<tspan font-weight="bold">d</tspan>)</text>
<filter id="f9" x="-20%" y="-50%" width="140%" height="200%"><feGaussianBlur stdDeviation="1.2"/></filter>
<rect x="589.7" y="298.2" width="195.5999999999999" height="13.699999999999989" fill="#b6b6b6"/>
<g filter="url(#f9)">
<rect x="640.5" y="301.8" width="53" height="10" rx="4.5" fill="#000"/>
<rect x="706.0" y="304.25" width="12" height="2.5" rx="1" fill="#a4a4a4"/>
<rect x="721.0" y="304.25" width="12" height="2.5" rx="1" fill="#a6a6a6"/>
<rect x="738.0" y="303.25" width="12" height="2.5" rx="1" fill="#9c9c9c"/>
<rect x="752.0" y="303.25" width="12" height="2.5" rx="1" fill="#a0a0a0"/>
</g>
<filter id="f10" x="-20%" y="-50%" width="140%" height="200%"><feGaussianBlur stdDeviation="1.2"/></filter>
<rect x="589.7" y="313.3" width="193.29999999999995" height="18.19999999999999" fill="#e2e2e2"/>
<g filter="url(#f10)">
<rect x="595.8" y="316" width="13" height="14" fill="#b8b8b8" opacity="0.7"/>
<rect x="610.4" y="316" width="13" height="14" fill="#b8b8b8" opacity="0.7"/>
<rect x="625.7" y="316" width="13" height="14" fill="#b8b8b8" opacity="0.7"/>
<rect x="641.5" y="316" width="13" height="14" fill="#b8b8b8" opacity="0.7"/>
<rect x="657.5" y="316" width="13" height="14" fill="#b8b8b8" opacity="0.7"/>
<rect x="673.5" y="316" width="13" height="14" fill="#b8b8b8" opacity="0.7"/>
<rect x="689.1" y="316" width="13" height="14" fill="#b8b8b8" opacity="0.7"/>
<rect x="705.1" y="316" width="13" height="14" fill="#b8b8b8" opacity="0.7"/>
<rect x="721.0" y="316" width="13" height="14" fill="#b8b8b8" opacity="0.7"/>
<rect x="737.0" y="316" width="13" height="14" fill="#b8b8b8" opacity="0.7"/>
<rect x="752.9" y="316" width="13" height="14" fill="#b8b8b8" opacity="0.7"/>
<rect x="767.5" y="316" width="13" height="14" fill="#b8b8b8" opacity="0.7"/>
<rect x="595.8" y="317.95" width="13" height="8.5" rx="3" fill="#000"/>
<rect x="610.4" y="317.95" width="13" height="8.5" rx="3" fill="#000"/>
<rect x="625.7" y="317.95" width="13" height="8.5" rx="3" fill="#000"/>
<rect x="641.5" y="318.7" width="13" height="7" rx="3" fill="#000"/>
<rect x="657.5" y="318.7" width="13" height="7" rx="3" fill="#000"/>
<rect x="673.5" y="318.7" width="13" height="7" rx="3" fill="#000"/>
<rect x="689.1" y="320.3" width="13" height="7" rx="3" fill="#000"/>
<rect x="705.1" y="320.05" width="13" height="7.5" rx="3" fill="#000"/>
<rect x="721.0" y="320.3" width="13" height="7" rx="3" fill="#000"/>
<rect x="737.0" y="320.05" width="13" height="7.5" rx="3" fill="#000"/>
<rect x="752.9" y="320.8" width="13" height="6" rx="3" fill="#000"/>
<rect x="767.5" y="320.05" width="13" height="7.5" rx="3" fill="#000"/>
</g>
<text x="607.3" y="291.8" font-size="14.2" font-weight="normal" text-anchor="middle" font-family='"Liberation Sans", sans-serif' >C</text>
<line x1="590" y1="295.6" x2="634.8" y2="295.6" stroke="#000" stroke-width="2.6"/>
<text x="663.3" y="291.8" font-size="14.2" font-weight="normal" text-anchor="middle" font-family='"Liberation Sans", sans-serif' >CKD</text>
<line x1="642.1" y1="295.6" x2="687" y2="295.6" stroke="#000" stroke-width="2.6"/>
<text x="713.8" y="291.8" font-size="14.2" font-weight="normal" text-anchor="middle" font-family='"Liberation Sans", sans-serif' >CKDA</text>
<line x1="691.7" y1="295.6" x2="737" y2="295.6" stroke="#000" stroke-width="2.6"/>
<text x="761" y="291.8" font-size="14.2" font-weight="normal" text-anchor="middle" font-family='"Liberation Sans", sans-serif' >CKDL</text>
<line x1="741" y1="295.6" x2="786.3" y2="295.6" stroke="#000" stroke-width="2.6"/>
<text x="569.2" y="308.5" font-size="12" font-weight="normal" text-anchor="end" font-family='"Liberation Sans", sans-serif' letter-spacing="-0.4">HO-1</text>
<polygon points="575.7,300.9 586.0,305 575.7,309.1" fill="#000"/>
<text x="574.1" y="326.6" font-size="12.5" font-weight="normal" text-anchor="end" font-family='"Liberation Sans", sans-serif' >&#946;-Actin</text>
<polygon points="576.9,317.7 587.1999999999999,321.8 576.9,325.90000000000003" fill="#000"/>
<line x1="612.6" y1="490.5" x2="617.6" y2="490.5" stroke="#000" stroke-width="2"/>
<text x="612.1" y="494.1" font-size="10" font-weight="bold" text-anchor="end" font-family='"Liberation Sans", sans-serif' >0.0</text>
<line x1="612.6" y1="469.7" x2="617.6" y2="469.7" stroke="#000" stroke-width="2"/>
<text x="612.1" y="473.3" font-size="10" font-weight="bold" text-anchor="end" font-family='"Liberation Sans", sans-serif' >0.1</text>
<line x1="612.6" y1="448.9" x2="617.6" y2="448.9" stroke="#000" stroke-width="2"/>
<text x="612.1" y="452.5" font-size="10" font-weight="bold" text-anchor="end" font-family='"Liberation Sans", sans-serif' >0.2</text>
<line x1="612.6" y1="428.1" x2="617.6" y2="428.1" stroke="#000" stroke-width="2"/>
<text x="612.1" y="431.70000000000005" font-size="10" font-weight="bold" text-anchor="end" font-family='"Liberation Sans", sans-serif' >0.3</text>
<line x1="612.6" y1="407.3" x2="617.6" y2="407.3" stroke="#000" stroke-width="2"/>
<text x="612.1" y="410.90000000000003" font-size="10" font-weight="bold" text-anchor="end" font-family='"Liberation Sans", sans-serif' >0.4</text>
<line x1="612.6" y1="386.5" x2="617.6" y2="386.5" stroke="#000" stroke-width="2"/>
<text x="612.1" y="390.1" font-size="10" font-weight="bold" text-anchor="end" font-family='"Liberation Sans", sans-serif' >0.5</text>
<line x1="612.6" y1="365.7" x2="617.6" y2="365.7" stroke="#000" stroke-width="2"/>
<text x="612.1" y="369.3" font-size="10" font-weight="bold" text-anchor="end" font-family='"Liberation Sans", sans-serif' >0.6</text>
<line x1="612.6" y1="344.9" x2="617.6" y2="344.9" stroke="#000" stroke-width="2"/>
<text x="612.1" y="348.5" font-size="10" font-weight="bold" text-anchor="end" font-family='"Liberation Sans", sans-serif' >0.7</text>
<line x1="617.6" y1="491.5" x2="617.6" y2="343.5" stroke="#000" stroke-width="2"/>
<line x1="614" y1="490.5" x2="766" y2="490.5" stroke="#000" stroke-width="2"/>
<rect x="662" y="357.7" width="29.399999999999977" height="132.8" fill="#000" stroke="#000" stroke-width="2"/>
<line x1="676.7" y1="357.7" x2="676.7" y2="346.59999999999997" stroke="#000" stroke-width="2"/>
<line x1="668.7" y1="346.59999999999997" x2="684.7" y2="346.59999999999997" stroke="#000" stroke-width="2"/>
<text x="676.7" y="347.6" font-size="12" font-weight="normal" text-anchor="middle" font-family='"Liberation Sans", sans-serif' >*</text>
<rect x="691.4" y="473.79999999999995" width="30.200000000000045" height="16.700000000000045" fill="#fff" stroke="#000" stroke-width="2"/>
<line x1="691.4" y1="486.5" x2="721.6" y2="486.5" stroke="#000" stroke-width="1.15"/>
<line x1="691.4" y1="483.5" x2="721.6" y2="483.5" stroke="#000" stroke-width="1.15"/>
<line x1="691.4" y1="479.5" x2="721.6" y2="479.5" stroke="#000" stroke-width="1.15"/>
<line x1="691.4" y1="475.5" x2="721.6" y2="475.5" stroke="#000" stroke-width="1.15"/>
<text x="706.5" y="468.5" font-size="13" font-weight="normal" text-anchor="middle" font-family='"Liberation Sans", sans-serif' stroke="#000" stroke-width="0.25">+</text>
<text x="706.5" y="459.6" font-size="12" font-weight="normal" text-anchor="middle" font-family='"Liberation Sans", sans-serif' >*</text>
<rect x="721.6" y="476.5" width="29.399999999999977" height="14.0" fill="#fff" stroke="#000" stroke-width="2"/>
<line x1="725.5" y1="476.5" x2="725.5" y2="490.5" stroke="#000" stroke-width="1.15"/>
<line x1="728.5" y1="476.5" x2="728.5" y2="490.5" stroke="#000" stroke-width="1.15"/>
<line x1="732.5" y1="476.5" x2="732.5" y2="490.5" stroke="#000" stroke-width="1.15"/>
<line x1="735.5" y1="476.5" x2="735.5" y2="490.5" stroke="#000" stroke-width="1.15"/>
<line x1="739.5" y1="476.5" x2="739.5" y2="490.5" stroke="#000" stroke-width="1.15"/>
<line x1="742.5" y1="476.5" x2="742.5" y2="490.5" stroke="#000" stroke-width="1.15"/>
<line x1="746.5" y1="476.5" x2="746.5" y2="490.5" stroke="#000" stroke-width="1.15"/>
<line x1="736.3" y1="476.5" x2="736.3" y2="475.09999999999997" stroke="#000" stroke-width="2"/>
<line x1="729.3" y1="475.09999999999997" x2="743.3" y2="475.09999999999997" stroke="#000" stroke-width="2"/>
<text x="736.3" y="472.0" font-size="13" font-weight="normal" text-anchor="middle" font-family='"Liberation Sans", sans-serif' stroke="#000" stroke-width="0.25">+</text>
<text x="736.3" y="462.3" font-size="12" font-weight="normal" text-anchor="middle" font-family='"Liberation Sans", sans-serif' >*</text>
<text x="650.6" y="501.0" font-size="11" font-weight="bold" text-anchor="end" font-family='"Liberation Sans", sans-serif' transform="rotate(-45 650.6 501.0)">C</text>
<text x="680.3" y="501.2" font-size="11" font-weight="bold" text-anchor="end" font-family='"Liberation Sans", sans-serif' transform="rotate(-45 680.3 501.2)">CKD</text>
<text x="708.9" y="501.3" font-size="11" font-weight="bold" text-anchor="end" font-family='"Liberation Sans", sans-serif' transform="rotate(-45 708.9 501.3)">CKDA</text>
<text x="738.6" y="501.8" font-size="11" font-weight="bold" text-anchor="end" font-family='"Liberation Sans", sans-serif' transform="rotate(-45 738.6 501.8)">CKDL</text>
<text font-size="12.2" font-weight="bold" text-anchor="middle" font-family='"Liberation Sans", sans-serif' transform="translate(575.4 417) rotate(-90)">HO-1 expression</text>
<text font-size="12.2" font-weight="bold" text-anchor="middle" font-family='"Liberation Sans", sans-serif' transform="translate(590 417) rotate(-90)">(A.u.)</text>
<text x="661" y="545.3" font-size="17" text-anchor="middle" font-family='"Liberation Serif", serif'>(<tspan font-weight="bold">e</tspan>)</text>
<text x="394.5" y="566.8" font-size="12" font-weight="normal" text-anchor="middle" font-family='"Liberation Sans", sans-serif' >From García Trejo EMÁ, et al. Int J Mol Sci (2017).</text>
<text x="394.7" y="578.7" font-size="12.3" font-weight="normal" text-anchor="middle" font-family='"Liberation Sans", sans-serif' >Shown under license agreement via CiteAb</text>
</svg></body></html>
